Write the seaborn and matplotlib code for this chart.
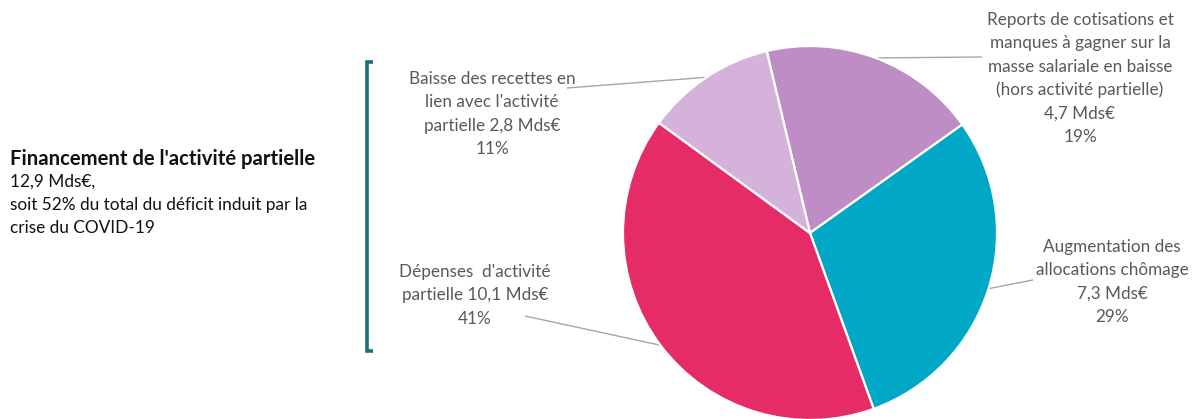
import numpy as np
import matplotlib
matplotlib.use("Agg")
import matplotlib.pyplot as plt
import seaborn as sns

# ---- data ----
categories = ["Reports", "Augmentation", "Dépenses", "Baisse"]
values = [4.7, 7.3, 10.1, 2.8]
label_lines = [
    ["Reports de cotisations et", "manques à gagner sur la", "masse salariale en baisse",
     "(hors activité partielle)", "{v}", "{p}"],
    ["Augmentation des", "allocations chômage", "{v}", "{p}"],
    ["Dépenses  d'activité", "partielle {v}", "{p}"],
    ["Baisse des recettes en", "lien avec l'activité", "partielle {v}", "{p}"],
]
side_title = "Financement de l'activité partielle"
side_lines = ["12,9 Mds€,", "soit 52% du total du déficit induit par la", "crise du COVID-19"]

colors = ["#BF8DC5", "#00A8C6", "#E62C66", "#D5B2D9"]

sns.set_theme(style="white")
plt.rcParams["font.family"] = ["Lato", "DejaVu Sans"]

W, H = 1202, 419
fig = plt.figure(figsize=(W / 100, H / 100), dpi=100)
ax = fig.add_axes([0, 0, 1, 1])

def Y(py):
    return H - py

center = (810, Y(233))
radius = 187
wedges, _ = ax.pie(values, colors=colors, startangle=103.4, counterclock=False,
                   center=center, radius=radius, frame=True,
                   wedgeprops=dict(edgecolor="white", linewidth=1.6))
ax.set_xlim(0, W)
ax.set_ylim(0, H)
ax.set_aspect("equal")
ax.axis("off")

total = sum(values)
# label layout: (center x, first line y, anchor point of leader line)
layout = [
    (1080, 20, (982, 57)),
    (1112, 247, (1033, 280)),
    (475, 272, (525, 316)),
    (492, 79, (567, 88)),
]
gray = "#595959"
fs = 12.3
step = 23.3
for w, v, lines, (cx, y0, anchor) in zip(wedges, values, label_lines, layout):
    vs = f"{v:.1f}".replace(".", ",") + " Mds€"
    ps = f"{round(v / total * 100)}%"
    for i, ln in enumerate(lines):
        ax.text(cx, Y(y0 + i * step), ln.format(v=vs, p=ps), ha="center", va="center",
                fontsize=fs, color=gray)
    mid = np.deg2rad((w.theta1 + w.theta2) / 2)
    px = center[0] + radius * np.cos(mid)
    py = center[1] + radius * np.sin(mid)
    ax.plot([px, anchor[0]], [py, Y(anchor[1])], color="#A6A6A6", lw=1.0,
            solid_capstyle="butt", zorder=0)

# side bracket
bc = "#1D6E7A"
ax.plot([373, 367, 367, 373], [Y(62), Y(62), Y(351), Y(351)], color=bc, lw=2.6,
        solid_joinstyle="miter", solid_capstyle="butt")

# side text
ax.text(10, Y(159), side_title, ha="left", va="center", fontsize=14.6,
        fontweight="bold", color="#111111")
for i, ln in enumerate(side_lines):
    ax.text(10, Y(182 + i * 22.8), ln, ha="left", va="center", fontsize=12.4,
            color="#111111")

fig.savefig("out.png", dpi=100, facecolor="white")
